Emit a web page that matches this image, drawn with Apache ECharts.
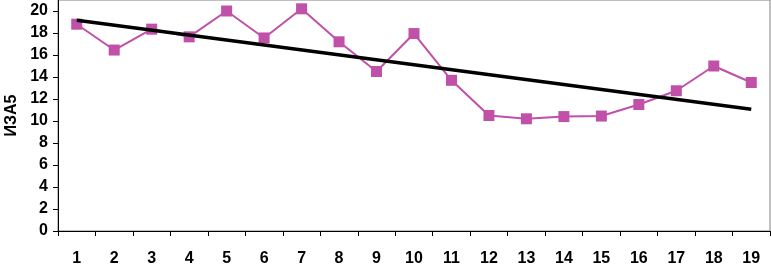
<!DOCTYPE html>
<html><head><meta charset="utf-8">
<script src="https://cdn.jsdelivr.net/npm/echarts@6/dist/echarts.min.js"></script>
<style>html,body{margin:0;padding:0;background:#fff}#c{width:771px;height:264px}</style>
</head><body><div id="c"></div>
<script>
const categories = ['1','2','3','4','5','6','7','8','9','10','11','12','13','14','15','16','17','18','19'];
const iza5 = [18.8, 16.45, 18.35, 17.65, 20.0, 17.55, 20.2, 17.2, 14.5, 17.95, 13.7, 10.5, 10.2, 10.4, 10.45, 11.5, 12.75, 15.0, 13.5];
const trendStart = 19.15;
const trendEnd = 11.06;
const yTicks = ['0','2','4','6','8','10','12','14','16','18','20'];
const yAxisName = 'ИЗА5';

const trendData = [[categories[0], trendStart], [categories[categories.length-1], trendEnd]];
const FONT = 'Liberation Sans, Arial, sans-serif';

const chart = echarts.init(document.getElementById('c'), null, {renderer:'canvas'});
chart.setOption({
  animation: false,
  grid: {left: 58, right: 1, top: 0, bottom: 33, containLabel: false, outerBoundsMode: 'none',
    show: true, borderColor: '#808080', borderWidth: 1, backgroundColor: '#fff'},
  xAxis: {
    type: 'category', data: categories, boundaryGap: true,
    axisLine: {lineStyle: {color: '#000', width: 1}},
    axisTick: {show: true, length: 5, lineStyle: {color: '#000'}},
    axisLabel: {color: '#000', fontFamily: FONT, fontWeight: 'bold', fontSize: 16, margin: 20},
    splitLine: {show: false}
  },
  yAxis: {
    type: 'value', min: 0, max: 21, interval: 2,
    name: yAxisName, nameLocation: 'middle', nameGap: 37, nameRotate: 90,
    nameTextStyle: {color: '#000', fontFamily: FONT, fontWeight: 'bold', fontSize: 16},
    axisLine: {show: true, lineStyle: {color: '#000', width: 1}},
    axisTick: {show: true, length: 5, lineStyle: {color: '#000'}},
    axisLabel: {color: '#000', fontFamily: FONT, fontWeight: 'bold', fontSize: 16, margin: 10, showMaxLabel: false,
      formatter: v => yTicks.includes(String(v)) ? String(v) : ''},
    splitLine: {show: false}
  },
  series: [
    {
      type: 'line', data: iza5, symbol: 'rect', symbolSize: 11,
      lineStyle: {color: '#C050A8', width: 2},
      itemStyle: {color: '#C050A8'}, z: 2
    },
    {
      type: 'line', data: trendData, symbol: 'none',
      lineStyle: {color: '#000', width: 3.5}, z: 3
    }
  ]
});
</script></body></html>
